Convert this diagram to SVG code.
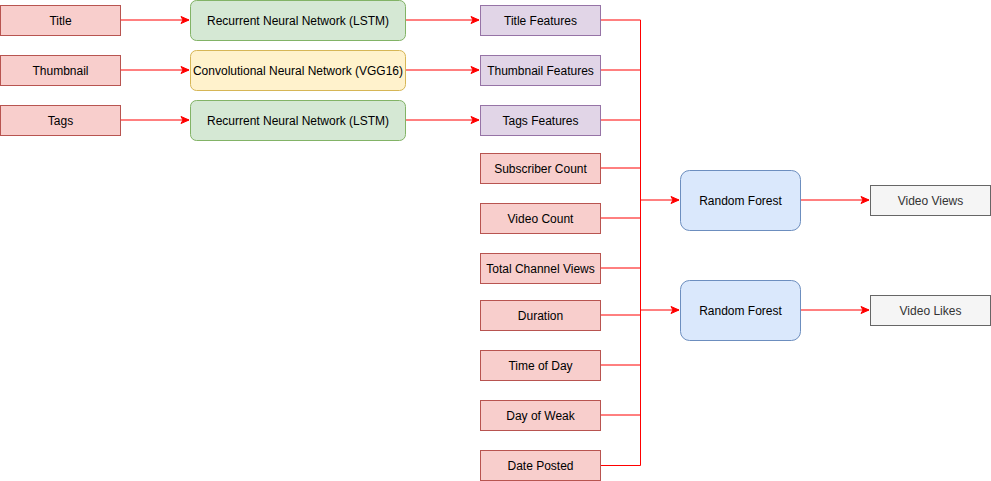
<svg xmlns="http://www.w3.org/2000/svg" width="991" height="481" viewBox="0 0 991 481">
<style>
text{font-family:"Liberation Sans",Arial,sans-serif;font-size:12px;fill:#000;text-anchor:middle;dominant-baseline:central}
.red{fill:#f8cecc;stroke:#b85450}
.green{fill:#d5e8d4;stroke:#82b366}
.yellow{fill:#fff2cc;stroke:#d6b656}
.purple{fill:#e1d5e7;stroke:#9673a6}
.blue{fill:#dae8fc;stroke:#6c8ebf}
.gray{fill:#f5f5f5;stroke:#666666}
.gray+text{fill:#333333}
.c{fill:none;stroke:#ff0000;stroke-width:1}
</style>
<defs>
<marker id="ah" markerWidth="10" markerHeight="10" viewBox="0 0 10 10" refX="9" refY="5" orient="auto" markerUnits="userSpaceOnUse">
<path d="M1,1.5 L9,5 L1,8.5 L3,5 Z" fill="#ff0000" stroke="#ff0000"/>
</marker>
</defs>
<g id="connectors">
<path class="c" d="M120.5,20 H189" marker-end="url(#ah)"/>
<path class="c" d="M120.5,70 H189" marker-end="url(#ah)"/>
<path class="c" d="M120.5,120 H189" marker-end="url(#ah)"/>
<path class="c" d="M405.5,20 H479" marker-end="url(#ah)"/>
<path class="c" d="M405.5,70 H479" marker-end="url(#ah)"/>
<path class="c" d="M405.5,120 H479" marker-end="url(#ah)"/>
<path class="c" d="M600.5,20 H640.5 V465.5 H600.5"/>
<path class="c" d="M600.5,70 H640.5"/>
<path class="c" d="M600.5,120 H640.5"/>
<path class="c" d="M600.5,168 H640.5"/>
<path class="c" d="M600.5,218 H640.5"/>
<path class="c" d="M600.5,268 H640.5"/>
<path class="c" d="M600.5,315 H640.5"/>
<path class="c" d="M600.5,365 H640.5"/>
<path class="c" d="M600.5,415 H640.5"/>
<path class="c" d="M640.5,200 H679" marker-end="url(#ah)"/>
<path class="c" d="M640.5,310 H679" marker-end="url(#ah)"/>
<path class="c" d="M800.5,200 H869" marker-end="url(#ah)"/>
<path class="c" d="M800.5,310 H869" marker-end="url(#ah)"/>
</g>
<g id="title"><rect class="red" x="0.5" y="5.5" width="120" height="30"/><text x="60.5" y="20.5">Title</text></g>
<g id="thumbnail"><rect class="red" x="0.5" y="55.5" width="120" height="30"/><text x="60.5" y="70.5">Thumbnail</text></g>
<g id="tags"><rect class="red" x="0.5" y="105.5" width="120" height="30"/><text x="60.5" y="120.5">Tags</text></g>
<g id="lstm1"><rect class="green" x="190.5" y="0.5" width="215" height="40" rx="6"/><text x="298" y="20.5">Recurrent Neural Network (LSTM)</text></g>
<g id="vgg"><rect class="yellow" x="190.5" y="50.5" width="215" height="40" rx="6"/><text x="298" y="70.5">Convolutional Neural Network (VGG16)</text></g>
<g id="lstm2"><rect class="green" x="190.5" y="100.5" width="215" height="40" rx="6"/><text x="298" y="120.5">Recurrent Neural Network (LSTM)</text></g>
<g id="title-features"><rect class="purple" x="480.5" y="5.5" width="120" height="30"/><text x="540.5" y="20.5">Title Features</text></g>
<g id="thumbnail-features"><rect class="purple" x="480.5" y="55.5" width="120" height="30"/><text x="540.5" y="70.5">Thumbnail Features</text></g>
<g id="tags-features"><rect class="purple" x="480.5" y="105.5" width="120" height="30"/><text x="540.5" y="120.5">Tags Features</text></g>
<g id="subscriber-count"><rect class="red" x="480.5" y="153.5" width="120" height="30"/><text x="540.5" y="168.5">Subscriber Count</text></g>
<g id="video-count"><rect class="red" x="480.5" y="203.5" width="120" height="30"/><text x="540.5" y="218.5">Video Count</text></g>
<g id="total-channel-views"><rect class="red" x="480.5" y="253.5" width="120" height="30"/><text x="540.5" y="268.5">Total Channel Views</text></g>
<g id="duration"><rect class="red" x="480.5" y="300.5" width="120" height="30"/><text x="540.5" y="315.5">Duration</text></g>
<g id="time-of-day"><rect class="red" x="480.5" y="350.5" width="120" height="30"/><text x="540.5" y="365.5">Time of Day</text></g>
<g id="day-of-weak"><rect class="red" x="480.5" y="400.5" width="120" height="30"/><text x="540.5" y="415.5">Day of Weak</text></g>
<g id="date-posted"><rect class="red" x="480.5" y="450.5" width="120" height="30"/><text x="540.5" y="465.5">Date Posted</text></g>
<g id="rf1"><rect class="blue" x="680.5" y="170.5" width="120" height="60" rx="9"/><text x="740.5" y="200.5">Random Forest</text></g>
<g id="rf2"><rect class="blue" x="680.5" y="280.5" width="120" height="60" rx="9"/><text x="740.5" y="310.5">Random Forest</text></g>
<g id="video-views"><rect class="gray" x="870.5" y="185.5" width="120" height="30"/><text x="930.5" y="200.5">Video Views</text></g>
<g id="video-likes"><rect class="gray" x="870.5" y="295.5" width="120" height="30"/><text x="930.5" y="310.5">Video Likes</text></g>
</svg>
